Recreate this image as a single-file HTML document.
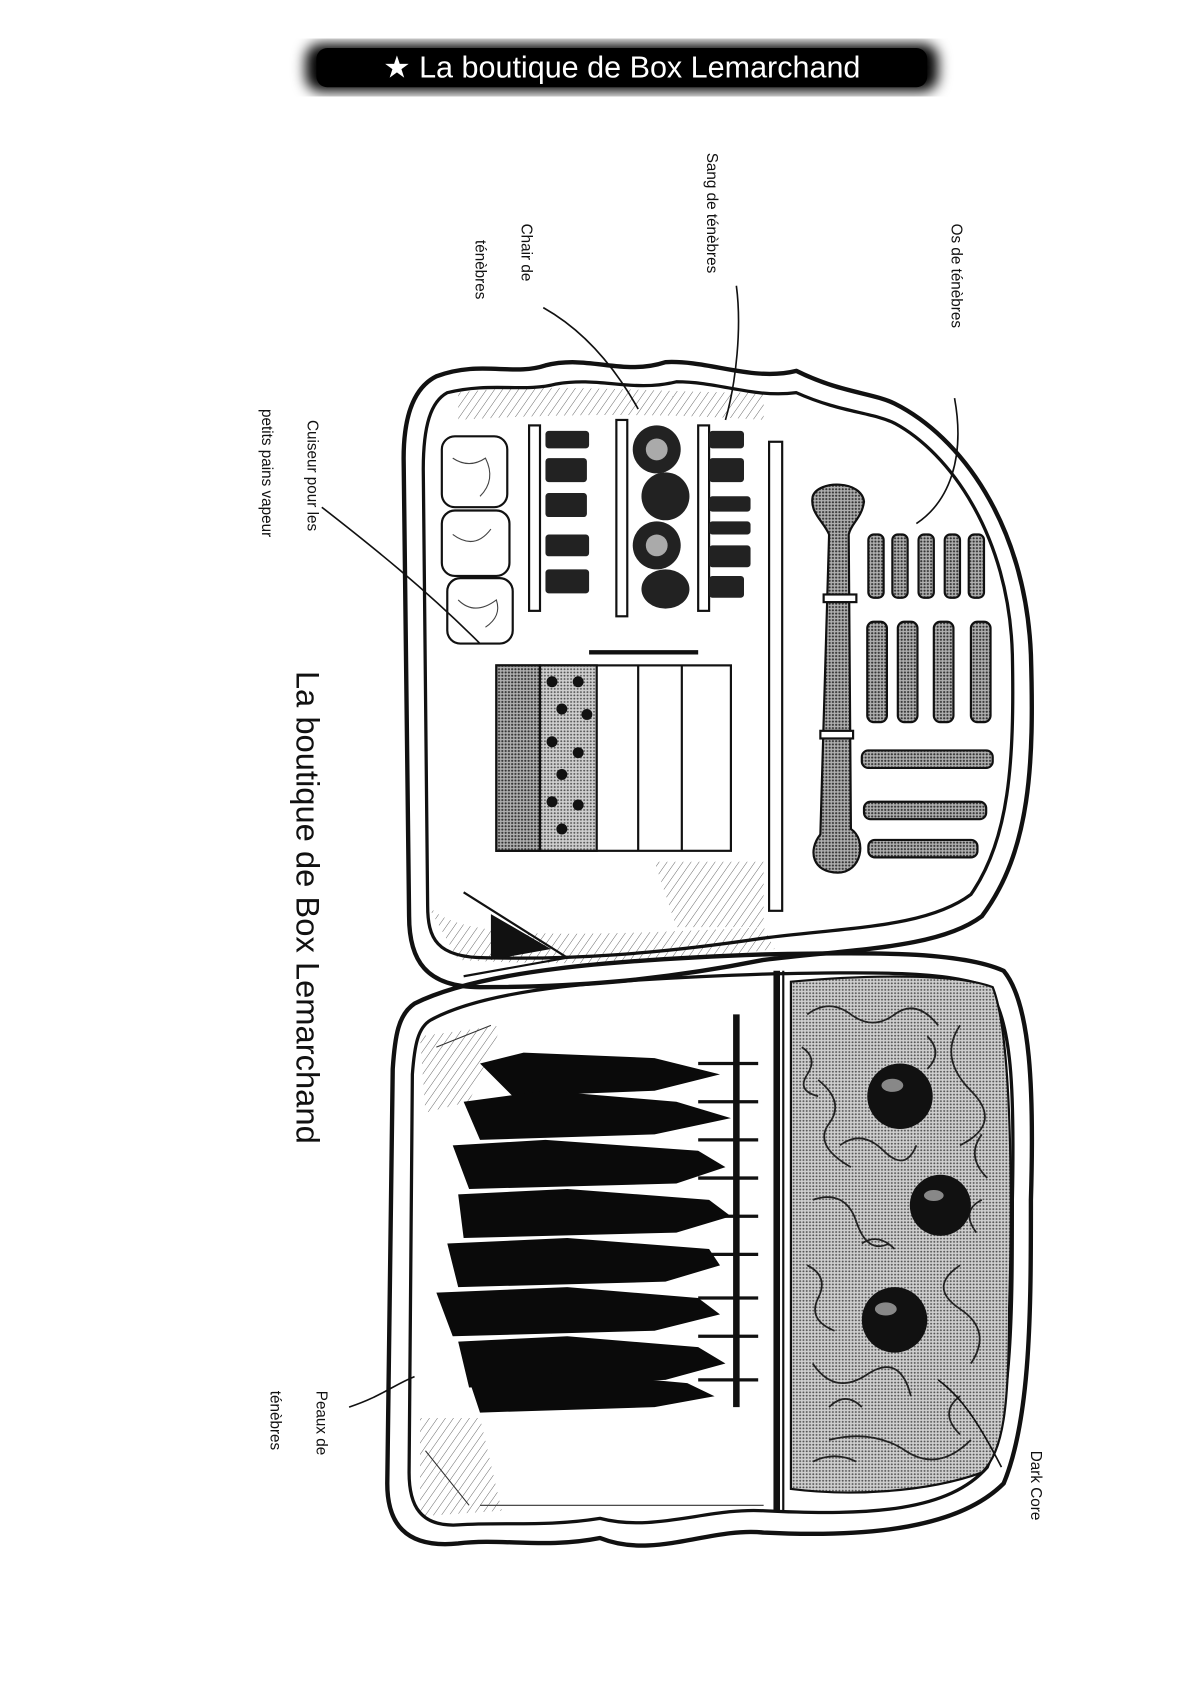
<!DOCTYPE html>
<html><head><meta charset="utf-8"><style>
html,body{margin:0;padding:0;background:#fff;}
svg{display:block;}
text{font-family:"Liberation Sans",sans-serif;}
.h{font-family:"DejaVu Sans","Liberation Sans",sans-serif;fill:#111;}
</style></head><body>
<svg width="1200" height="1706" viewBox="0 0 1100 1564" preserveAspectRatio="none" xmlns="http://www.w3.org/2000/svg">
<defs>
<pattern id="dots" width="3" height="3" patternUnits="userSpaceOnUse"><rect width="3" height="3" fill="#cfcfcf"/><circle cx="1.5" cy="1.5" r="0.9" fill="#555"/></pattern>
<pattern id="dots2" width="3" height="3" patternUnits="userSpaceOnUse"><rect width="3" height="3" fill="#b0b0b0"/><circle cx="1.5" cy="1.5" r="1" fill="#333"/></pattern>
<pattern id="hatch" width="6" height="6" patternUnits="userSpaceOnUse" patternTransform="rotate(35)"><line x1="0" y1="0" x2="0" y2="6" stroke="#555" stroke-width="0.8"/></pattern>
<filter id="glow"><feGaussianBlur stdDeviation="6"/></filter>
</defs>
<!-- title -->
<rect x="280" y="40" width="580" height="44" rx="14" fill="#000" filter="url(#glow)"/>
<rect x="290" y="44" width="560" height="36" rx="10" fill="#000"/>
<text x="570" y="71" font-size="28" fill="#fff" text-anchor="middle">★ La boutique de Box Lemarchand</text>

<!-- hatched regions -->
<path d="M392,830 C420,860 500,860 700,850 L710,870 C600,885 500,885 420,880 Z" fill="url(#hatch)"/>
<path d="M420,360 C500,350 600,360 700,360 L700,385 C600,378 500,380 420,385 Z" fill="url(#hatch)"/>
<path d="M385,950 L460,940 L430,1010 L390,1020 Z" fill="url(#hatch)"/>
<path d="M385,1300 L440,1300 L460,1385 L385,1390 Z" fill="url(#hatch)"/>
<path d="M600,790 L700,790 L700,850 L620,850 Z" fill="url(#hatch)"/>

<g fill="none" stroke="#111" stroke-linecap="round" stroke-linejoin="round">
<path d="M400,345 C440,330 470,345 500,335 C540,325 570,345 610,332 C650,330 690,350 730,340 C770,360 800,360 820,370 C880,400 940,480 945,600 C948,700 945,780 900,840 C860,870 780,870 700,880 C600,900 520,905 440,905 C390,905 375,880 375,840 L370,420 C370,380 380,355 400,345 Z" stroke-width="4"/>
<path d="M410,360 C450,350 480,360 510,352 C550,345 580,360 620,350 C660,350 690,365 730,360 C770,378 800,378 820,388 C870,415 925,490 928,600 C930,700 925,770 890,820 C850,850 780,850 700,860 C600,875 520,880 445,878 C400,878 392,860 392,830 L388,430 C388,390 395,368 410,360 Z" stroke-width="3"/>
<path d="M380,920 C440,890 560,880 700,875 C800,873 880,872 920,890 C945,920 948,1000 945,1100 C945,1200 945,1300 920,1360 C880,1400 800,1410 700,1405 C650,1400 600,1430 550,1410 C500,1420 460,1410 420,1415 C370,1420 355,1395 355,1360 L360,980 C362,950 365,930 380,920 Z" stroke-width="4"/>
<path d="M395,935 C450,905 560,898 700,893 C800,891 870,890 905,905 C928,935 930,1000 928,1100 C928,1200 928,1290 905,1345 C870,1385 800,1390 700,1385 C650,1382 600,1405 550,1392 C500,1400 460,1395 420,1398 C385,1400 375,1380 375,1350 L378,985 C380,958 383,942 395,935 Z" stroke-width="3"/>
</g>
<path d="M450,838 L505,870 L450,880 Z" fill="#111"/>
<path d="M425,818 L520,878 L425,895" fill="none" stroke="#111" stroke-width="2"/>

<!-- upper interior -->
<g stroke="#111" stroke-width="2">
<rect x="405" y="400" width="60" height="65" rx="12" fill="#fff"/>
<rect x="405" y="468" width="62" height="60" rx="12" fill="#fff"/>
<rect x="410" y="530" width="60" height="60" rx="12" fill="#fff"/>
<rect x="485" y="390" width="10" height="170" fill="#fff"/>
<rect x="565" y="385" width="10" height="180" fill="#fff"/>
<rect x="640" y="390" width="10" height="170" fill="#fff"/>
<rect x="705" y="405" width="12" height="430" fill="#fff"/>
</g>
<g fill="none" stroke="#444" stroke-width="1"><path d="M415,420 q15,10 30,0 q10,20 -5,35"/><path d="M415,490 q20,15 35,-5"/><path d="M420,550 q15,15 35,0 q5,15 -10,25"/></g>
<g fill="#222">
<rect x="500" y="395" width="40" height="16" rx="3"/><rect x="500" y="420" width="38" height="22" rx="3"/><rect x="500" y="452" width="38" height="22" rx="3"/><rect x="500" y="490" width="40" height="20" rx="3"/><rect x="500" y="522" width="40" height="22" rx="3"/>
<rect x="650" y="395" width="32" height="16" rx="3"/><rect x="650" y="420" width="32" height="22" rx="3"/><rect x="650" y="455" width="38" height="14" rx="3"/><rect x="650" y="478" width="38" height="12" rx="3"/><rect x="650" y="500" width="38" height="20" rx="3"/><rect x="650" y="528" width="32" height="20" rx="3"/>
<ellipse cx="602" cy="412" rx="22" ry="22"/><ellipse cx="610" cy="455" rx="22" ry="22"/><ellipse cx="602" cy="500" rx="22" ry="22"/><ellipse cx="610" cy="540" rx="22" ry="18"/>
</g>
<g fill="#aaa"><circle cx="602" cy="412" r="10"/><circle cx="602" cy="500" r="10"/></g>
<g stroke="#111" stroke-width="2">
<rect x="455" y="610" width="215" height="170" fill="#fff"/>
<rect x="455" y="610" width="40" height="170" fill="url(#dots2)"/>
<rect x="495" y="610" width="52" height="170" fill="url(#dots)"/>
<line x1="585" y1="610" x2="585" y2="780"/><line x1="625" y1="610" x2="625" y2="780"/>
<line x1="540" y1="598" x2="640" y2="598" stroke-width="4"/>
</g>
<g fill="#111">
<circle cx="506" cy="625" r="5"/><circle cx="530" cy="625" r="5"/><circle cx="515" cy="650" r="5"/><circle cx="538" cy="655" r="5"/><circle cx="506" cy="680" r="5"/><circle cx="530" cy="690" r="5"/><circle cx="515" cy="710" r="5"/><circle cx="506" cy="735" r="5"/><circle cx="530" cy="738" r="5"/><circle cx="515" cy="760" r="5"/>
</g>
<g stroke="#111" stroke-width="2" fill="url(#dots2)">
<path d="M745,455 C750,440 790,440 792,460 C790,475 780,480 778,490 L780,760 C795,770 790,800 768,800 C745,800 740,780 752,765 L760,490 C755,478 742,470 745,455 Z"/>
<rect x="796" y="490" width="14" height="58" rx="5"/><rect x="818" y="490" width="14" height="58" rx="5"/><rect x="842" y="490" width="14" height="58" rx="5"/><rect x="866" y="490" width="14" height="58" rx="5"/><rect x="888" y="490" width="14" height="58" rx="5"/>
<rect x="795" y="570" width="18" height="92" rx="6"/><rect x="823" y="570" width="18" height="92" rx="6"/><rect x="856" y="570" width="18" height="92" rx="6"/><rect x="890" y="570" width="18" height="92" rx="6"/>
<rect x="790" y="688" width="120" height="16" rx="6"/><rect x="792" y="735" width="112" height="16" rx="6"/><rect x="796" y="770" width="100" height="16" rx="6"/>
</g>
<g stroke="#111" stroke-width="2" fill="#fff"><rect x="755" y="545" width="30" height="7"/><rect x="752" y="670" width="30" height="7"/></g>

<!-- lower interior -->
<line x1="712" y1="890" x2="712" y2="1385" stroke="#111" stroke-width="6"/>
<line x1="718" y1="890" x2="718" y2="1385" stroke="#111" stroke-width="2"/>
<path d="M725,900 C800,893 880,893 910,905 C928,950 928,1100 925,1200 C925,1290 920,1330 900,1350 C850,1368 780,1372 725,1365 Z" fill="url(#dots)" stroke="#111" stroke-width="2"/>
<g fill="none" stroke="#222" stroke-width="1.6">
<path d="M740,930 q20,-15 40,0 t40,0 t40,10"/><path d="M750,990 q25,20 10,40 t20,40"/><path d="M880,940 q-20,30 10,60 t-10,50"/><path d="M745,1100 q30,-10 40,20 t30,20"/><path d="M880,1160 q-30,20 0,40 t10,50"/><path d="M745,1250 q20,30 50,10 t40,20"/><path d="M760,1320 q40,-10 70,10 t60,-10"/>
<path d="M735,960 q15,10 5,25 t10,20"/><path d="M770,1050 q20,-15 40,5 t30,-5"/><path d="M900,1040 q-15,20 5,40"/><path d="M740,1160 q20,10 10,30 t15,30"/><path d="M790,1140 q15,-10 30,5"/><path d="M880,1280 q-20,15 0,35"/><path d="M760,1290 q15,-15 30,0"/><path d="M850,950 q15,15 0,30"/><path d="M900,1100 q-20,10 -5,30"/><path d="M745,1340 q20,-10 40,0"/>
</g>
<g fill="#111"><circle cx="825" cy="1005" r="30"/><circle cx="862" cy="1105" r="28"/><circle cx="820" cy="1210" r="30"/></g>
<g fill="#888"><ellipse cx="818" cy="995" rx="10" ry="6"/><ellipse cx="856" cy="1096" rx="9" ry="5"/><ellipse cx="812" cy="1200" rx="10" ry="6"/></g>
<line x1="675" y1="930" x2="675" y2="1290" stroke="#111" stroke-width="6"/>
<g stroke="#111" stroke-width="3">
<line x1="640" y1="975" x2="695" y2="975"/><line x1="640" y1="1010" x2="695" y2="1010"/><line x1="640" y1="1045" x2="695" y2="1045"/><line x1="640" y1="1080" x2="695" y2="1080"/><line x1="640" y1="1115" x2="695" y2="1115"/><line x1="640" y1="1150" x2="695" y2="1150"/><line x1="640" y1="1190" x2="695" y2="1190"/><line x1="640" y1="1225" x2="695" y2="1225"/><line x1="640" y1="1265" x2="695" y2="1265"/>
</g>
<g fill="#0a0a0a">
<path d="M440,975 L480,965 L600,970 L660,985 L600,1000 L470,1005 Z"/>
<path d="M425,1010 L500,1000 L620,1010 L670,1025 L600,1040 L440,1045 Z"/>
<path d="M415,1050 L500,1045 L640,1055 L665,1070 L620,1085 L430,1090 Z"/>
<path d="M420,1095 L520,1090 L650,1100 L670,1115 L620,1130 L425,1135 Z"/>
<path d="M410,1140 L520,1135 L650,1145 L660,1160 L610,1175 L420,1180 Z"/>
<path d="M400,1185 L520,1180 L640,1190 L660,1205 L600,1220 L415,1225 Z"/>
<path d="M420,1230 L520,1225 L640,1235 L665,1250 L610,1265 L430,1272 Z"/>
<path d="M430,1265 L520,1258 L630,1268 L655,1280 L600,1290 L440,1295 Z"/>
</g>
<g fill="none" stroke="#333" stroke-width="1"><path d="M400,960 L450,940 M390,1330 L430,1380 M440,1380 L700,1380"/></g>

<g fill="none" stroke="#111" stroke-width="1.5">
<path d="M498,282 C530,300 560,330 585,375"/>
<path d="M675,262 C680,300 675,350 665,385"/>
<path d="M875,365 C885,420 870,460 840,480"/>
<path d="M295,465 C340,500 390,540 440,590"/>
<path d="M320,1290 C350,1280 360,1270 380,1262"/>
<path d="M918,1345 C895,1300 880,1280 860,1265"/>
</g>

<g class="h">
<text transform="translate(272,615) rotate(90)" font-size="30">La boutique de Box Lemarchand</text>
<text transform="translate(478,205) rotate(90)" font-size="14">Chair de</text>
<text transform="translate(436,220) rotate(90)" font-size="14">ténèbres</text>
<text transform="translate(648,140) rotate(90)" font-size="14">Sang de ténèbres</text>
<text transform="translate(872,205) rotate(90)" font-size="14">Os de ténèbres</text>
<text transform="translate(282,385) rotate(90)" font-size="14">Cuiseur pour les</text>
<text transform="translate(240,375) rotate(90)" font-size="14">petits pains vapeur</text>
<text transform="translate(290,1275) rotate(90)" font-size="14">Peaux de</text>
<text transform="translate(248,1275) rotate(90)" font-size="14">ténèbres</text>
<text transform="translate(945,1330) rotate(90)" font-size="14">Dark Core</text>
</g>
</svg>
</body></html>
